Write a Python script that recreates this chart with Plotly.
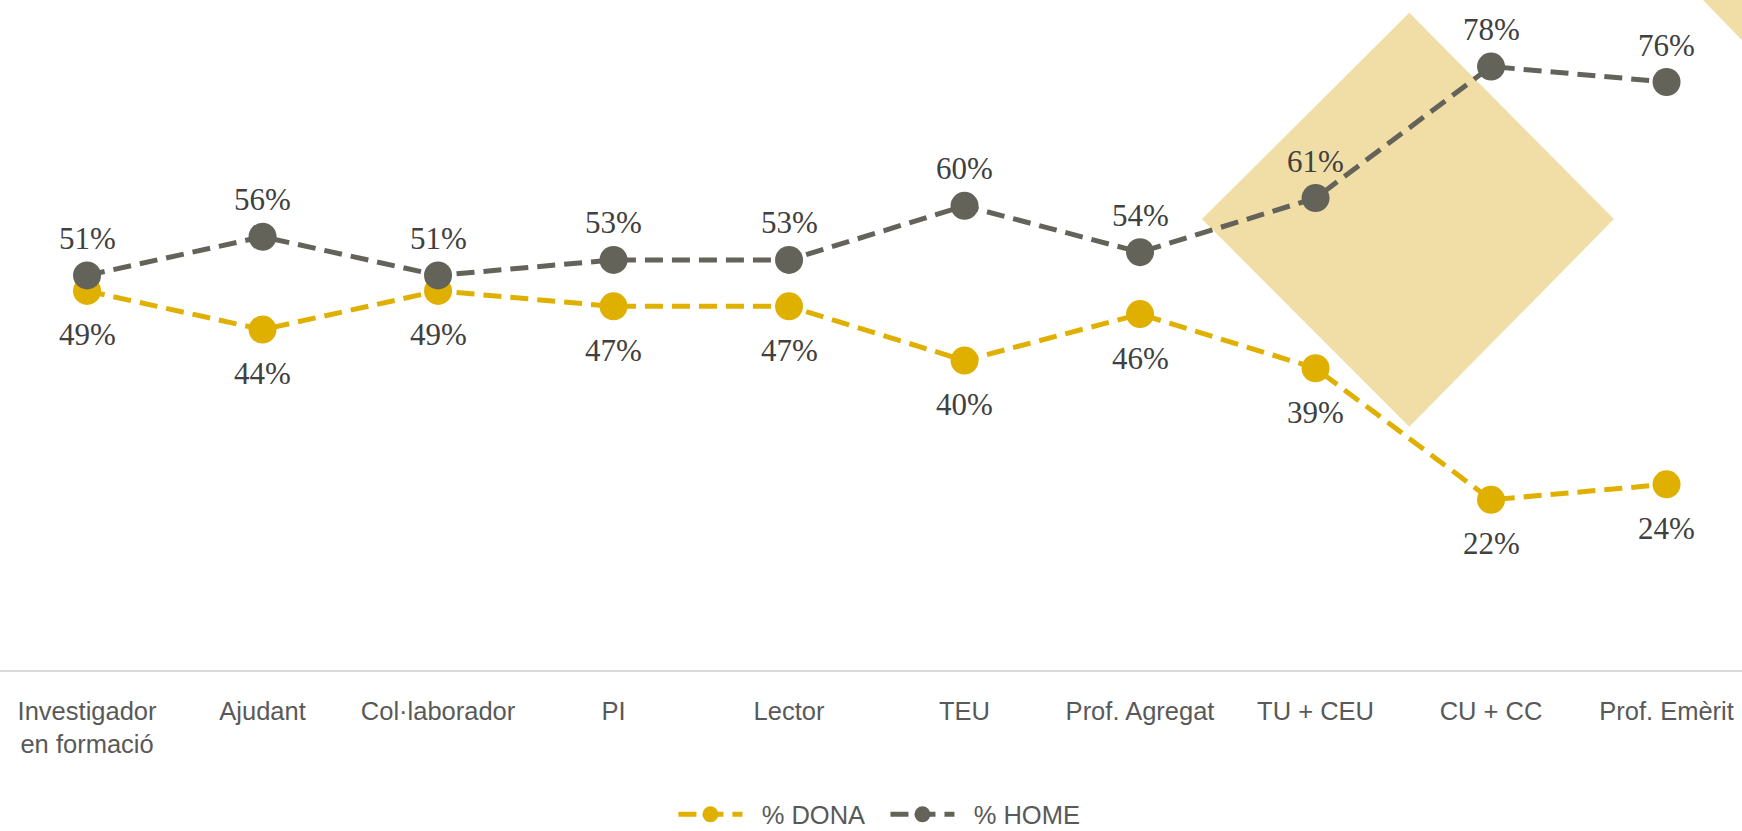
import plotly.graph_objects as go

categories = ["Investigador<br>en formació", "Ajudant", "Col·laborador", "PI", "Lector",
              "TEU", "Prof. Agregat", "TU + CEU", "CU + CC", "Prof. Emèrit"]
dona = [49, 44, 49, 47, 47, 40, 46, 39, 22, 24]
home = [51, 56, 51, 53, 53, 60, 54, 61, 78, 76]
series_names = ["% DONA", "% HOME"]

DONA_C = "#E0B000"
HOME_C = "#646359"
FILL = "#F0DEA6"
xs = list(range(len(categories)))
LABEL_FONT = dict(family="Liberation Serif, Times New Roman, serif", size=31, color="#404040")
SANS = "Liberation Sans, Arial, sans-serif"
PAD = "\u00a0\u00a0"

fig = go.Figure()
fig.add_trace(go.Scatter(
    x=xs, y=dona, name=PAD + series_names[0], mode="lines+markers",
    line=dict(color=DONA_C, width=5, dash="18px,9px"),
    marker=dict(color=DONA_C, size=28),
))
fig.add_trace(go.Scatter(
    x=xs, y=home, name=PAD + series_names[1], mode="lines+markers",
    line=dict(color=HOME_C, width=5, dash="18px,9px"),
    marker=dict(color=HOME_C, size=28),
))

# value labels
for x, v in zip(xs, dona):
    fig.add_annotation(x=x, y=v, text=f"{v}%", showarrow=False, yshift=-44,
                       xanchor="center", yanchor="middle", font=LABEL_FONT)
for x, v in zip(xs, home):
    fig.add_annotation(x=x, y=v, text=f"{v}%", showarrow=False, yshift=37,
                       xanchor="center", yanchor="middle", font=LABEL_FONT)

# decorative diamond and corner triangle
fig.add_shape(type="path", xref="paper", yref="paper", layer="below",
              path="M 0.809 0.981 L 0.9265 0.673 L 0.809 0.363 L 0.690 0.673 Z",
              fillcolor=FILL, line=dict(width=0))
fig.add_shape(type="path", xref="paper", yref="paper", layer="below",
              path="M 0.9776 1.0 L 1.0 1.0 L 1.0 0.94 Z",
              fillcolor=FILL, line=dict(width=0))

fig.update_layout(
    width=1742, height=831,
    margin=dict(l=0, r=0, t=0, b=161, autoexpand=False),
    plot_bgcolor="white", paper_bgcolor="white",
    showlegend=True,
    legend=dict(orientation="h", x=0.3866, xanchor="left", y=-0.216, yanchor="middle",
                font=dict(family=SANS, size=25.5, color="#595959"),
                itemwidth=64, entrywidth=133),
    xaxis=dict(
        tickmode="array", tickvals=xs, ticktext=categories,
        range=[-0.496, 9.43], showgrid=False, zeroline=False,
        showline=True, linecolor="#D9D9D9", linewidth=2, ticks="",
        tickfont=dict(family=SANS, size=25.5, color="#595959"),
        ticklabelstandoff=17,
        automargin=False,
    ),
    yaxis=dict(range=[0, 86.6], visible=False, showgrid=False, zeroline=False,
               automargin=False),
)

fig.write_html(
    "out.html",
    config={"displayModeBar": False},
    post_script="document.body.style.margin='0';document.body.style.overflow='hidden';",
)
